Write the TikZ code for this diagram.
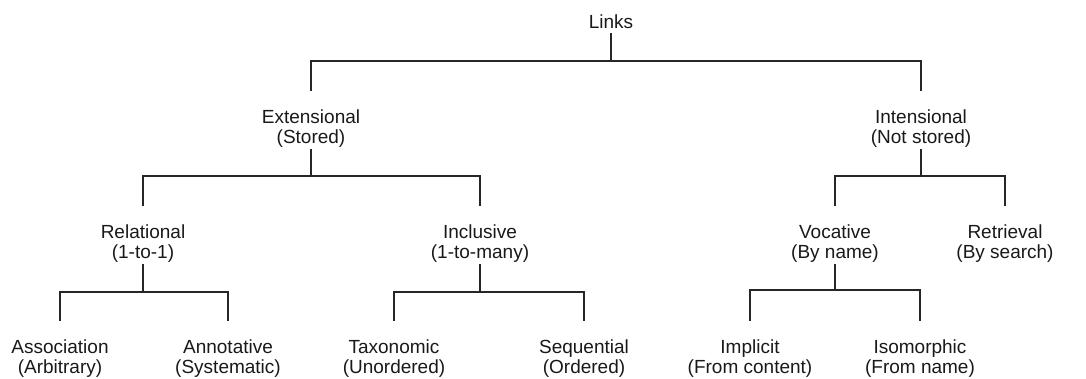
\documentclass[tikz,border=0pt]{standalone}
\usepackage{fontspec}
\setmainfont{Liberation Sans}
\begin{document}
\begin{tikzpicture}[x=1pt,y=-1pt,
  lbl/.style={anchor=north,inner sep=0pt,align=center,
    font=\fontsize{19}{20}\selectfont,text=black!90},
  branch/.style={draw=black!85,line width=1.2pt,shorten >=19pt,shorten <=1pt}]
\useasboundingbox (0,0) rectangle (1086,379);

% tree labels
\node[lbl] (links) at (611,15)  {Links};
\node[lbl] (ext)   at (311,110) {Extensional\\(Stored)};
\node[lbl] (int)   at (921,110) {Intensional\\(Not stored)};
\node[lbl] (rel)   at (143,225) {Relational\\(1-to-1)};
\node[lbl] (inc)   at (480,225) {Inclusive\\(1-to-many)};
\node[lbl] (voc)   at (835,225) {Vocative\\(By name)};
\node[lbl] (ret)   at (1005,225) {Retrieval\\(By search)};
\node[lbl] (asc)   at (60,340)  {Association\\(Arbitrary)};
\node[lbl] (ann)   at (228,340) {Annotative\\(Systematic)};
\node[lbl] (tax)   at (394,340) {Taxonomic\\(Unordered)};
\node[lbl] (seq)   at (584,340) {Sequential\\(Ordered)};
\node[lbl] (imp)   at (750,340) {Implicit\\(From content)};
\node[lbl] (iso)   at (920,340) {Isomorphic\\(From name)};

% heights of the horizontal bars
\coordinate (b0) at (0,61);
\coordinate (b1) at (0,176);
\coordinate (b2) at (0,292);
\coordinate (b3) at (0,290);

% connectors
\foreach \c in {ext,int}
  \draw[branch,shorten <=4pt] (links.south) -- (links.south |- b0) -| (\c.north);
\foreach \c in {rel,inc}
  \draw[branch] (ext.south) -- (ext.south |- b1) -| (\c.north);
\foreach \c in {voc,ret}
  \draw[branch] (int.south) -- (int.south |- b1) -| (\c.north);
\foreach \c in {asc,ann}
  \draw[branch] (rel.south) -- (rel.south |- b2) -| (\c.north);
\foreach \c in {tax,seq}
  \draw[branch] (inc.south) -- (inc.south |- b2) -| (\c.north);
\foreach \c in {imp,iso}
  \draw[branch] (voc.south) -- (voc.south |- b3) -| (\c.north);
\end{tikzpicture}
\end{document}
